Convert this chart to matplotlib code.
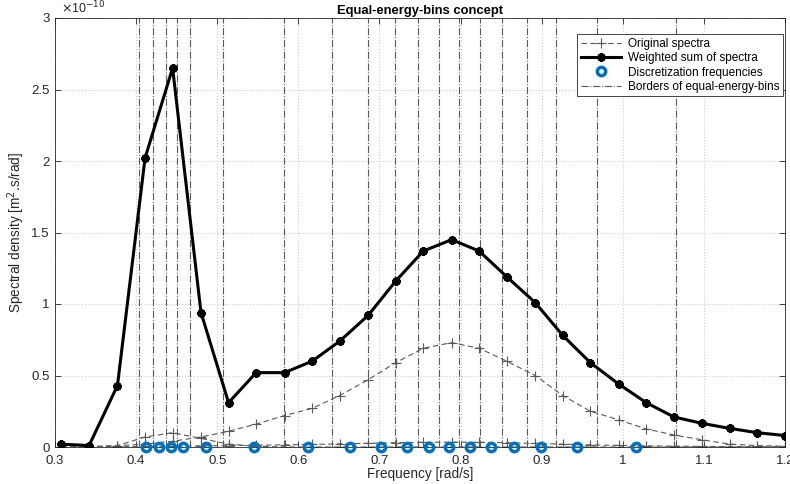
import numpy as np
from matplotlib import pyplot as plt
from matplotlib.lines import Line2D

plt.rcParams['font.family'] = ['Liberation Sans', 'DejaVu Sans']

# frequency grid of the spectra [rad/s]
freq = [0.308, 0.342, 0.377, 0.411, 0.445, 0.480, 0.514, 0.548, 0.583, 0.617,
        0.651, 0.686, 0.720, 0.754, 0.789, 0.823, 0.857, 0.892, 0.926, 0.960,
        0.995, 1.029, 1.063, 1.098, 1.132, 1.166, 1.200]

# spectral densities, in units of 1e-10 m^2.s/rad
spec_swell = [0.00, 0.00, 0.01, 0.07, 0.10, 0.06, 0.02, 0.005, 0.0, 0.0,
              0.0, 0.0, 0.0, 0.0, 0.0, 0.0, 0.0, 0.0, 0.0, 0.0,
              0.0, 0.0, 0.0, 0.0, 0.0, 0.0, 0.0]
spec_wind = [0.00, 0.003, 0.01, 0.02, 0.04, 0.07, 0.11, 0.16, 0.22, 0.27,
             0.36, 0.47, 0.59, 0.69, 0.73, 0.69, 0.60, 0.50, 0.36, 0.25,
             0.19, 0.126, 0.084, 0.05, 0.02, 0.01, 0.005]
spec_small = [0.0, 0.0, 0.002, 0.004, 0.006, 0.008, 0.010, 0.012, 0.015, 0.018,
              0.022, 0.026, 0.030, 0.033, 0.034, 0.033, 0.030, 0.025, 0.020, 0.015,
              0.011, 0.008, 0.006, 0.004, 0.003, 0.002, 0.001]
weighted_sum = [0.02, 0.01, 0.43, 2.02, 2.65, 0.94, 0.31, 0.52, 0.52, 0.60,
                0.74, 0.92, 1.16, 1.37, 1.45, 1.37, 1.19, 1.01, 0.78, 0.59,
                0.44, 0.31, 0.21, 0.165, 0.13, 0.10, 0.08]

# discretization frequencies and bin borders [rad/s]
disc_freq = [0.4121, 0.4285, 0.4432, 0.4581, 0.4866, 0.5448, 0.6123, 0.6637, 0.7024,
             0.7336, 0.7607, 0.7860, 0.8112, 0.8374, 0.8661, 0.8996, 0.9431, 1.0169]
borders = [0.4036, 0.4205, 0.4365, 0.4498, 0.4664, 0.5068, 0.5827, 0.6419, 0.6855, 0.7192,
           0.7479, 0.7734, 0.7985, 0.8240, 0.8507, 0.8816, 0.9177, 0.9686, 1.0653]

xticks = [0.3, 0.4, 0.5, 0.6, 0.7, 0.8, 0.9, 1.0, 1.1, 1.2]
xticklabels = ['0.3', '0.4', '0.5', '0.6', '0.7', '0.8', '0.9', '1', '1.1', '1.2']
yticks = [0, 0.5, 1, 1.5, 2, 2.5, 3]
yticklabels = ['0', '0.5', '1', '1.5', '2', '2.5', '3']

blue = (0.0, 0.447, 0.741)
axcol = (0.15, 0.15, 0.15)
grey = (0.35, 0.35, 0.35)

fig = plt.figure(figsize=(7.9, 4.84), dpi=100)
ax = fig.add_axes([55 / 790, 1 - 447 / 484, 730 / 790, 429 / 484])

for b in borders:
    ax.axvline(b, color=grey, ls='-.', lw=0.8, zorder=1)

for s in [spec_swell, spec_wind, spec_small]:
    ax.plot(freq, s, color=grey, ls=(0, (5, 3)), lw=0.8, marker='+', ms=7, mew=0.8, zorder=2)

ax.plot(freq, weighted_sum, color='k', lw=2.2, marker=(8, 2, 0), ms=6, mew=1.8, zorder=3)
ax.plot(disc_freq, np.zeros(len(disc_freq)), ls='none', marker='o', ms=6, mew=2.5,
        mfc='none', mec=blue, zorder=4, clip_on=False)

ax.set_xlim(0.3, 1.2)
ax.set_ylim(0, 3)
ax.set_xticks(xticks)
ax.set_xticklabels(xticklabels)
ax.set_yticks(yticks)
ax.set_yticklabels(yticklabels)
ax.grid(True, ls=':', color=(0.8, 0.8, 0.8), lw=0.8)
ax.set_axisbelow(True)
ax.tick_params(direction='in', top=True, right=True, length=4, width=0.6,
               labelsize=9.5, colors=axcol, pad=6)
ax.tick_params(axis='y', pad=4)
for sp in ax.spines.values():
    sp.set_color(axcol)
    sp.set_linewidth(0.6)

ax.set_title('Equal-energy-bins concept', fontsize=9.4, fontweight='bold', pad=3)
ax.set_xlabel('Frequency [rad/s]', fontsize=9.8, color=axcol, labelpad=0)
ax.set_ylabel('Spectral density [m$^2$.s/rad]', fontsize=9.8, color=axcol)
ax.yaxis.set_label_coords(-0.038, 0.5)
ax.text(0.008, 1.004, r'$\times$10$^{-10}$', transform=ax.transAxes, fontsize=9,
        ha='left', va='bottom', color=axcol)

handles = [
    Line2D([], [], color=grey, ls=(0, (5, 3)), lw=0.8, marker='+', ms=7, mew=0.8),
    Line2D([], [], color='k', lw=2.2, marker=(8, 2, 0), ms=6, mew=1.8),
    Line2D([], [], ls='none', marker='o', ms=6, mew=2.5, mfc='none', mec=blue),
    Line2D([], [], color=grey, ls='-.', lw=0.8),
]
labels = ['Original spectra', 'Weighted sum of spectra', 'Discretization frequencies',
          'Borders of equal-energy-bins']
leg = ax.legend(handles, labels, loc='upper right', bbox_to_anchor=(0.997, 0.962),
                fontsize=8.5, handlelength=3.4, fancybox=False, framealpha=1,
                borderpad=0.3, labelspacing=0.2, handletextpad=0.6, borderaxespad=0)
leg.get_frame().set_edgecolor(axcol)
leg.get_frame().set_linewidth(0.6)

fig.savefig('out.png', dpi=100)
